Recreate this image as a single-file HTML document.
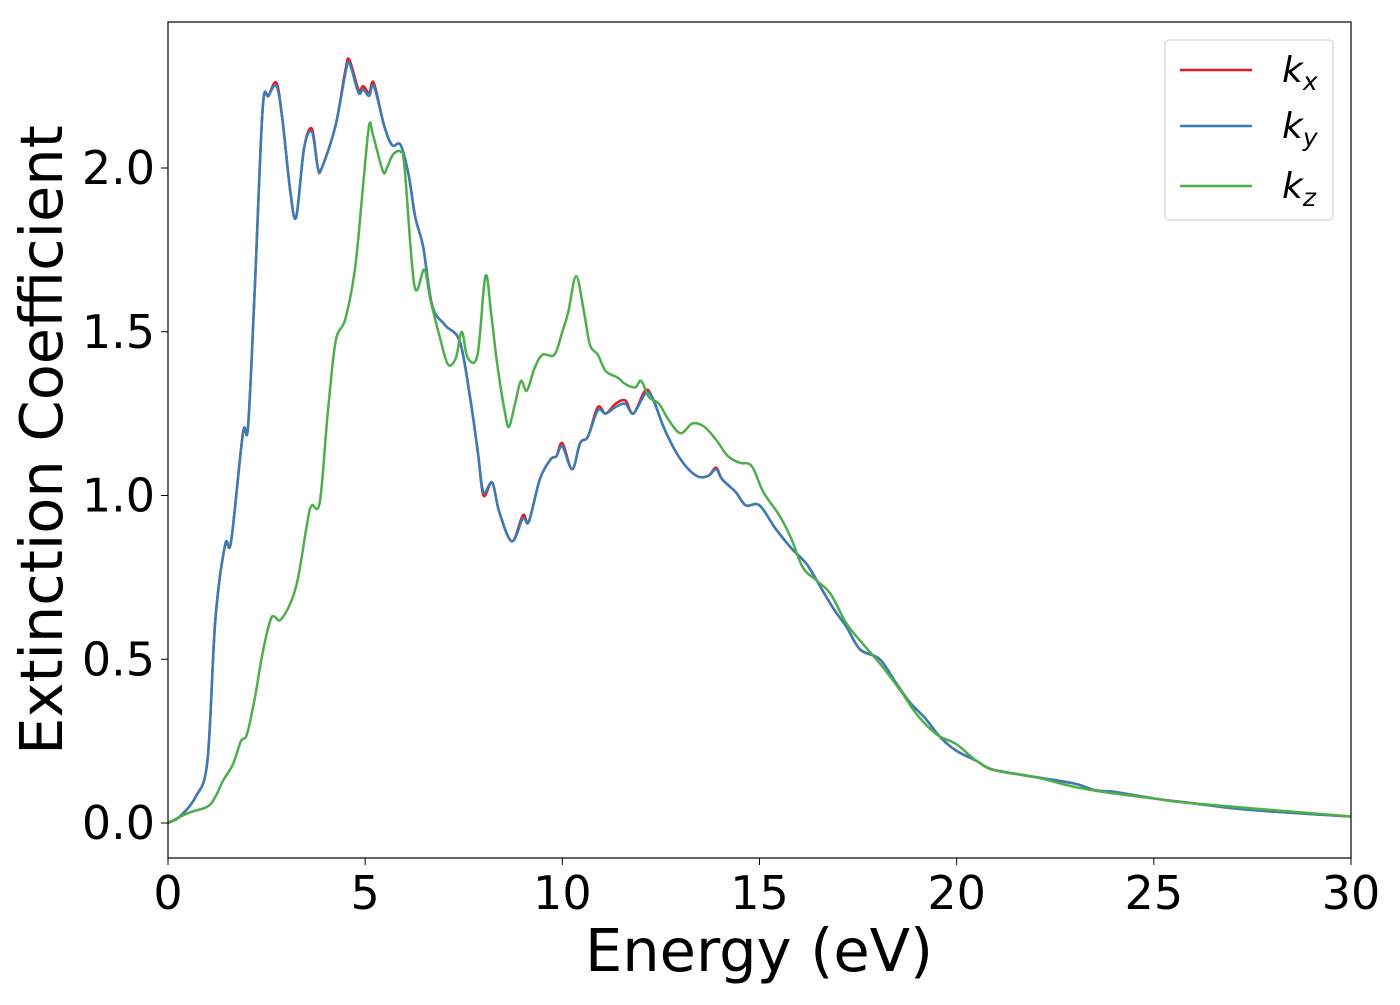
<!DOCTYPE html>
<html><head><meta charset="utf-8"><style>
body{margin:0;background:#fff}
svg text{font-family:"DejaVu Sans","Liberation Sans",sans-serif}
</style></head><body>
<svg id="chart" width="1400" height="1000" viewBox="0 0 1400 1000">
<rect width="1400" height="1000" fill="#fff"/>
<g id="series"></g>
<rect x="168" y="22" width="1183" height="836" fill="none" stroke="#000" stroke-width="1.2"/>
<g id="xticks"></g>
<g id="yticks"></g>
<text x="759" y="971" font-size="59" text-anchor="middle">Energy (eV)</text>
<text transform="translate(62,440) rotate(-90)" font-size="59" text-anchor="middle">Extinction Coefficient</text>
<g>
<rect x="1165" y="40" width="168" height="180" rx="4" fill="#fff" fill-opacity="0.8" stroke="#ccc"/>
<g><line x1="1180" y1="70" x2="1252" y2="70" stroke="#e41a1c" stroke-width="2.5"/><text x="1282" y="82" font-size="36" font-style="italic">k<tspan font-size="25" dy="8">x</tspan></text></g>
<g><line x1="1180" y1="126" x2="1252" y2="126" stroke="#377eb8" stroke-width="2.5"/><text x="1282" y="138" font-size="36" font-style="italic">k<tspan font-size="25" dy="8">y</tspan></text></g>
<g><line x1="1180" y1="186" x2="1252" y2="186" stroke="#4daf4a" stroke-width="2.5"/><text x="1282" y="198" font-size="36" font-style="italic">k<tspan font-size="25" dy="8">z</tspan></text></g>
</g>
</svg>
<script>
const xTicks=[0,5,10,15,20,25,30];
const yTicks=[0,0.5,1.0,1.5,2.0];
const kxE=[0,0.3,0.7,1.0,1.2,1.45,1.6,1.9,2.03,2.2,2.4,2.55,2.75,2.9,3.1,3.25,3.45,3.65,3.8,3.9,4.25,4.5,4.6,4.83,4.95,5.1,5.22,5.48,5.68,5.9,6.1,6.27,6.47,6.7,7.03,7.4,7.66,7.86,8.0,8.22,8.4,8.72,9.0,9.15,9.43,9.7,9.85,10.0,10.25,10.45,10.65,10.9,11.1,11.35,11.6,11.8,12.1,12.28,12.6,13.0,13.4,13.7,13.9,14.05,14.4,14.65,15.0,15.4,15.8,16.2,16.55,16.9,17.2,17.55,18.05,18.45,18.8,19.2,19.6,20,20.5,20.85,21.5,22,23,23.5,24,25,26,27,28,29,30];
const kxV=[0,0.02,0.08,0.19,0.62,0.85,0.86,1.19,1.21,1.63,2.18,2.22,2.26,2.15,1.93,1.85,2.06,2.12,2.0,2.0,2.13,2.3,2.33,2.24,2.25,2.23,2.26,2.13,2.07,2.07,1.98,1.85,1.76,1.58,1.52,1.47,1.3,1.13,1.0,1.04,0.95,0.86,0.94,0.92,1.05,1.11,1.12,1.16,1.08,1.16,1.18,1.27,1.25,1.28,1.29,1.25,1.32,1.3,1.2,1.11,1.06,1.06,1.085,1.05,1.01,0.97,0.97,0.9,0.84,0.79,0.72,0.65,0.6,0.53,0.5,0.43,0.37,0.32,0.26,0.22,0.19,0.165,0.15,0.14,0.12,0.1,0.095,0.075,0.06,0.045,0.035,0.027,0.02];
const kyV=[0,0.02,0.08,0.19,0.62,0.85,0.86,1.19,1.21,1.63,2.18,2.22,2.25,2.15,1.93,1.85,2.06,2.11,2.0,2.0,2.13,2.29,2.32,2.23,2.24,2.22,2.25,2.13,2.07,2.07,1.98,1.85,1.76,1.58,1.52,1.47,1.3,1.13,1.01,1.04,0.95,0.86,0.93,0.92,1.05,1.11,1.12,1.15,1.08,1.16,1.18,1.26,1.25,1.27,1.28,1.25,1.31,1.3,1.2,1.11,1.06,1.06,1.08,1.05,1.01,0.97,0.97,0.9,0.84,0.79,0.72,0.65,0.6,0.53,0.5,0.43,0.37,0.32,0.26,0.22,0.19,0.165,0.15,0.14,0.12,0.1,0.095,0.075,0.06,0.045,0.035,0.027,0.02];
const kzE=[0,0.5,1.0,1.2,1.4,1.65,1.85,2.0,2.2,2.4,2.6,2.7,2.85,3.1,3.3,3.55,3.65,3.85,4.05,4.25,4.5,4.75,4.95,5.1,5.2,5.45,5.55,5.7,5.9,6.0,6.25,6.5,6.65,6.9,7.1,7.3,7.45,7.6,7.85,8.05,8.2,8.35,8.55,8.65,8.8,8.95,9.1,9.3,9.5,9.8,10.0,10.15,10.35,10.55,10.7,10.9,11.1,11.4,11.6,11.85,12.0,12.2,12.45,12.7,13.0,13.3,13.6,13.9,14.2,14.5,14.8,15.1,15.5,15.8,16.1,16.45,16.8,17.2,17.6,18.1,18.6,19.0,19.5,20,20.5,21,22,23,24,25,26,30];
const kzV=[0,0.03,0.05,0.08,0.13,0.18,0.25,0.27,0.38,0.52,0.62,0.63,0.62,0.67,0.75,0.93,0.97,0.98,1.25,1.47,1.54,1.7,1.95,2.13,2.1,1.99,2.0,2.04,2.05,2.0,1.64,1.69,1.6,1.48,1.4,1.42,1.5,1.42,1.43,1.67,1.55,1.4,1.25,1.21,1.28,1.35,1.32,1.39,1.43,1.43,1.5,1.56,1.67,1.56,1.46,1.43,1.38,1.36,1.34,1.33,1.35,1.3,1.28,1.23,1.19,1.22,1.21,1.17,1.12,1.1,1.09,1.01,0.94,0.87,0.78,0.74,0.7,0.61,0.55,0.48,0.4,0.33,0.27,0.24,0.19,0.16,0.14,0.11,0.09,0.075,0.06,0.02];
const NS="http://www.w3.org/2000/svg";
const X0=168,X1=1351,Y0=823,Y2=168;
function xs(e){return X0+(X1-X0)*e/30;}
function ys(v){return Y0+(Y2-Y0)*v/2;}
function smoothPath(E,V){
  const p=E.map((e,i)=>[xs(e),ys(V[i])]);
  let d="M"+p[0][0]+","+p[0][1];
  for(let i=0;i<p.length-1;i++){
    const a=p[Math.max(0,i-1)],b=p[i],c=p[i+1],n=p[Math.min(p.length-1,i+2)];
    const c1=[b[0]+(c[0]-a[0])/6,b[1]+(c[1]-a[1])/6],c2=[c[0]-(n[0]-b[0])/6,c[1]-(n[1]-b[1])/6];
    d+=" C"+c1[0]+","+c1[1]+" "+c2[0]+","+c2[1]+" "+c[0]+","+c[1];
  }
  return d;
}
const sg=document.getElementById("series");
function addLine(E,V,color,name){
  const path=document.createElementNS(NS,"path");
  path.setAttribute("d",smoothPath(E,V));
  path.setAttribute("fill","none");
  path.setAttribute("stroke",color);
  path.setAttribute("stroke-width","2.5");
  
  
  sg.appendChild(path);
}
addLine(kxE,kxV,"#e41a1c","kx-line");
addLine(kxE,kyV,"#377eb8","ky-line");
addLine(kzE,kzV,"#4daf4a","kz-line");
const xg=document.getElementById("xticks");
xTicks.forEach(t=>{
  const l=document.createElementNS(NS,"line");
  l.setAttribute("x1",xs(t));l.setAttribute("x2",xs(t));l.setAttribute("y1",858);l.setAttribute("y2",865);l.setAttribute("stroke","#000");
  
  
  xg.appendChild(l);
  const tx=document.createElementNS(NS,"text");
  tx.setAttribute("x",xs(t));tx.setAttribute("y",909);tx.setAttribute("font-size","46");tx.setAttribute("text-anchor","middle");
  tx.textContent=t;
  
  
  xg.appendChild(tx);
});
const yg=document.getElementById("yticks");
yTicks.forEach(t=>{
  const l=document.createElementNS(NS,"line");
  l.setAttribute("x1",161);l.setAttribute("x2",168);l.setAttribute("y1",ys(t));l.setAttribute("y2",ys(t));l.setAttribute("stroke","#000");
  
  
  yg.appendChild(l);
  const tx=document.createElementNS(NS,"text");
  tx.setAttribute("x",155);tx.setAttribute("y",ys(t)+16);tx.setAttribute("font-size","46");tx.setAttribute("text-anchor","end");
  tx.textContent=t.toFixed(1);
  
  
  yg.appendChild(tx);
});
</script>
</body></html>
